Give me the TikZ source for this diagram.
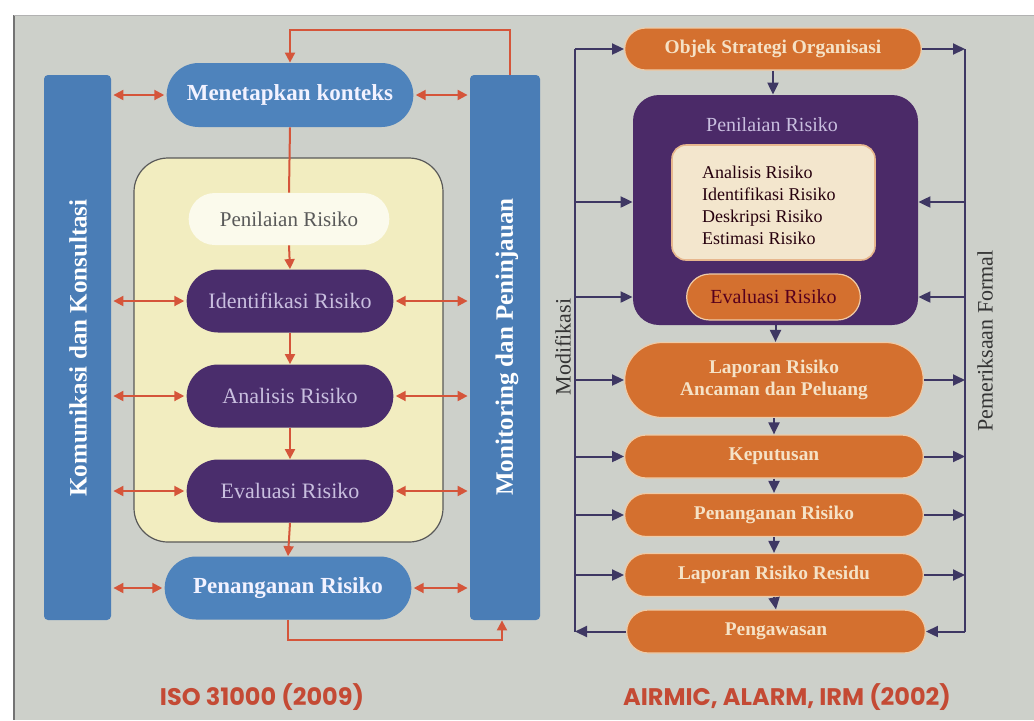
\documentclass[tikz,border=0pt]{standalone}
\usepackage{fontspec}
\setmainfont{Liberation Serif}
\newfontfamily\titlefont{Poppins}
\usetikzlibrary{shapes.misc,arrows.meta,calc}
\definecolor{bgc}{HTML}{CDD0CA}
\definecolor{barblue}{HTML}{4A7DB6}
\definecolor{pillblue}{HTML}{4E83BC}
\definecolor{pillpurple}{HTML}{4A2D6C}
\definecolor{paleyellow}{HTML}{F2EDC0}
\definecolor{redarr}{HTML}{D5553A}
\definecolor{orangep}{HTML}{D4702F}
\definecolor{boxpurple}{HTML}{4B2A68}
\definecolor{navyarr}{HTML}{3E3763}
\definecolor{creamtxt}{HTML}{F5E2C6}
\definecolor{lavtxt}{HTML}{C9BFDF}
\definecolor{titlered}{HTML}{C44A34}
\definecolor{innercream}{HTML}{F3E6CD}
\tikzset{
  bar/.style={rectangle, rounded corners=2pt, fill=barblue, draw=none},
  bartext/.style={text=white, font=\bfseries\fontsize{12.5}{14}\selectfont},
  bluepill/.style={rounded rectangle, fill=pillblue, text=white!95!blue, font=\bfseries\fontsize{11.5}{13}\selectfont},
  purplepill/.style={rounded rectangle, fill=pillpurple, text=lavtxt, font=\fontsize{11}{13}\selectfont, minimum width=110pt, minimum height=31.5pt},
  orangepill/.style={rounded rectangle, fill=orangep, draw=creamtxt!80!orangep, line width=0.6pt, text=creamtxt, font=\bfseries\fontsize{9.7}{11}\selectfont, minimum width=156pt, minimum height=21.5pt, align=center},
  redline/.style={draw=redarr, line width=1pt},
  redtip/.style={-{Triangle[length=5pt,width=5pt]}},
  redboth/.style={{Triangle[length=5pt,width=5pt]}-{Triangle[length=5pt,width=5pt]}},
  navyline/.style={draw=navyarr, line width=1pt},
  navytip/.style={-{Triangle[length=6pt,width=5.5pt]}},
  sidelabel/.style={text=black!80, font=\fontsize{11}{13}\selectfont},
  titletext/.style={text=titlered, font=\titlefont\bfseries\fontsize{12}{14}\selectfont}
}
\begin{document}
\begin{tikzpicture}[x=0.5pt,y=-0.5pt]
\useasboundingbox (0,0) rectangle (1034,720);
\fill[white] (0,0) rectangle (1034,720);
\fill[bgc] (14,15) rectangle (1034,720);
\draw[black!55, line width=0.8pt] (14,15) -- (14,720);
\draw[black!30, line width=0.4pt] (14,15) -- (1034,15);

% ---------------- left panel ----------------
\node[bar, minimum width=33.5pt, minimum height=272.5pt] (leftbar) at (77.5,347.5) {};
\node[bar, minimum width=35pt, minimum height=272.5pt] (rightbar) at (505,347.5) {};
\node[bartext, rotate=90] (komtxt) at (78,348) {Komunikasi dan Konsultasi};
\node[bartext, rotate=90] (montxt) at (507,347) {Monitoring dan Peninjauan};

\node[rectangle, rounded corners=17pt, fill=paleyellow, draw=black!65, line width=0.6pt,
      minimum width=154.5pt, minimum height=192pt] (ybox) at (288.5,350) {};

\node[bluepill, minimum width=130pt, minimum height=32pt] (menet) at (290,95) {Menetapkan konteks};
\node[rounded rectangle, fill=white!70!paleyellow, text=black!65, font=\fontsize{10.5}{12}\selectfont,
      minimum width=107pt, minimum height=26pt] (penil) at (289,219) {Penilaian Risiko};
\node[purplepill] (ident) at (290,301) {Identifikasi Risiko};
\node[purplepill] (anal) at (290,396) {Analisis Risiko};
\node[purplepill] (evalu) at (290,491) {Evaluasi Risiko};
\node[bluepill, minimum width=130pt, minimum height=31.5pt] (penang) at (288,588) {Penanganan Risiko};

\coordinate (fbtop) at (290,30);
\coordinate (rbtop) at ($(rightbar.north)+(5,0)$);
\coordinate (rbbot) at ($(rightbar.south)+(-3,0)$);
\draw[redline, redtip] (rbtop) |- (fbtop) -- (menet.north);
\draw[redline] (menet.south) -- (penil.north);
\draw[redline, redtip] (penil.south) -- (ident.north);
\draw[redline, redtip] (ident.south) -- (anal.north);
\draw[redline, redtip] (anal.south) -- (evalu.north);
\draw[redline, redtip] (evalu.south) -- (penang.north);
\draw[redline, redtip] (penang.south) -- ++(0,20) -| (rbbot);

\foreach \p in {menet,ident,anal,evalu,penang}{
  \draw[redline, redboth, shorten >=1pt, shorten <=1pt] (leftbar.east |- \p.west) -- (\p.west);
  \draw[redline, redboth, shorten >=1pt, shorten <=1pt] (\p.east) -- (rightbar.west |- \p.east);
}

\node[titletext] (isotitle) at (262,697) {ISO 31000 (2009)};

% ---------------- right panel ----------------
\node[orangepill, minimum width=155pt, minimum height=21pt] (objek) at (773,49) {Objek Strategi Organisasi};
\node[rectangle, rounded corners=13pt, fill=boxpurple, minimum width=142.5pt, minimum height=115pt] (pbox) at (775.5,210) {};
\node[text=lavtxt, font=\fontsize{10}{12}\selectfont] (pentxt) at (772,125) {Penilaian Risiko};
\node[rectangle, rounded corners=7pt, fill=innercream, draw=orangep!40!innercream, line width=0.8pt,
      minimum width=101.5pt, minimum height=57.5pt] (inner) at (773.5,202.5) {};
\node[text=black!80!purple, font=\fontsize{9}{11}\selectfont, align=left, anchor=west] (list) at (695,205)
  {Analisis Risiko\\Identifikasi Risiko\\Deskripsi Risiko\\Estimasi Risiko};
\node[orangepill, minimum width=93.5pt, minimum height=23pt, text=black!55!purple, font=\fontsize{10}{12}\selectfont] (evalr) at (773.5,297) {Evaluasi Risiko};

\node[orangepill, minimum height=37.5pt, font=\bfseries\fontsize{9.7}{11}\selectfont] (lapor) at (774,380) {Laporan Risiko\\Ancaman dan Peluang};
\node[orangepill] (keput) at (774,456.5) {Keputusan};
\node[orangepill] (penangr) at (774,515) {Penanganan Risiko};
\node[orangepill] (resid) at (774,575) {Laporan Risiko Residu};
\node[orangepill] (pengaw) at (776,631.5) {Pengawasan};

\draw[navyline, navytip] (objek.south) -- (objek.south |- pbox.north);
\draw[navyline, navytip] (pbox.south) -- (pbox.south |- lapor.north);
\draw[navyline, navytip] (lapor.south) -- (keput.north);
\draw[navyline, navytip] (keput.south) -- (penangr.north);
\draw[navyline, navytip] (penangr.south) -- (resid.north);
\draw[navyline, navytip] (resid.south) -- (pengaw.north);

\coordinate (ml) at (575,0);
\coordinate (mr) at (965,0);
\coordinate (pbA) at ($(pbox.west)+(0,-8)$);
\draw[navyline] (ml |- objek.west) -- (ml |- pengaw.west);
\draw[navyline] (mr |- objek.east) -- (mr |- pengaw.east);
\draw[navyline, navytip] (ml |- objek.west) -- (objek.west);
\draw[navyline, navytip] (ml |- pbA) -- (pbA);
\draw[navyline, navytip] (ml |- evalr) -- (pbox.west |- evalr);
\foreach \p in {lapor,keput,penangr,resid}{
  \draw[navyline, navytip] (ml |- \p.west) -- (\p.west);
  \draw[navyline, navytip] (\p.east) -- (mr |- \p.east);
}
\draw[navyline, navytip] (pengaw.west) -- (ml |- pengaw.west);
\draw[navyline, navytip] (objek.east) -- (mr |- objek.east);
\draw[navyline, navytip] (mr |- pbA) -- (pbox.east |- pbA);
\draw[navyline, navytip] (mr |- evalr) -- (pbox.east |- evalr);
\draw[navyline, navytip] (mr |- pengaw.east) -- (pengaw.east);

\node[sidelabel, rotate=90] (modtxt) at (563,347) {Modifikasi};
\node[sidelabel, rotate=90] (pemtxt) at (985,341) {Pemeriksaan Formal};

\node[titletext] (airtitle) at (787,697) {AIRMIC, ALARM, IRM (2002)};
\end{tikzpicture}
\end{document}
